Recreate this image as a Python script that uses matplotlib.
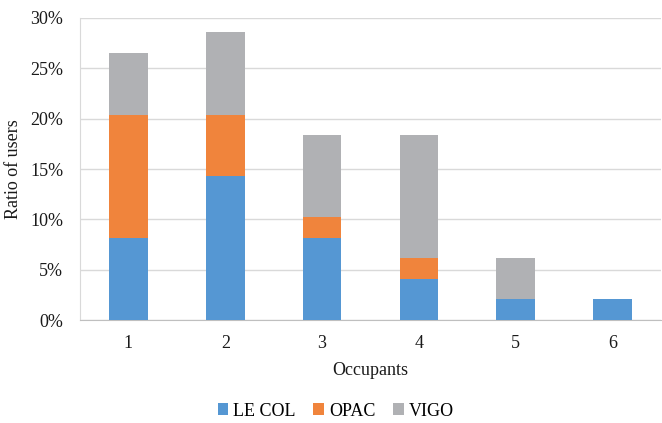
import matplotlib
matplotlib.use("Agg")
import matplotlib.pyplot as plt
import numpy as np
from matplotlib.ticker import PercentFormatter

categories = ["1", "2", "3", "4", "5", "6"]
le_col = [8.16, 14.29, 8.16, 4.08, 2.04, 2.04]
opac = [12.24, 6.12, 2.04, 2.04, 0.0, 0.0]
vigo = [6.12, 8.16, 8.16, 12.24, 4.08, 0.0]
series_names = ["LE COL", "OPAC", "VIGO"]
colors = ["#5597D3", "#F0843C", "#B0B1B4"]

plt.rcParams['font.family'] = ['Liberation Serif', 'DejaVu Serif']

fig = plt.figure(figsize=(6.62, 4.23), dpi=100)
ax = fig.add_axes([80/662, (423-320)/423, (661-80)/662, (320-18)/423])

x = np.arange(len(categories))
bottom = np.zeros(len(categories))
for name, vals, c in zip(series_names, [le_col, opac, vigo], colors):
    vals = np.array(vals)
    ax.bar(x, vals, 0.4, bottom=bottom, color=c, label=name, zorder=3)
    bottom += vals

ax.set_xlim(-0.5, len(categories) - 0.5)
ax.set_ylim(0, 30)
ax.set_yticks(np.arange(0, 31, 5))
ax.yaxis.set_major_formatter(PercentFormatter(decimals=0))
ax.set_xticks(x)
ax.set_xticklabels(categories)
ax.grid(axis='y', color='#D9D9D9', linewidth=1, zorder=0)
for s in ['top', 'right']:
    ax.spines[s].set_visible(False)
ax.spines['left'].set_color('#D9D9D9')
ax.spines['bottom'].set_color('#BFBFBF')
ax.tick_params(length=0, labelsize=13, colors='#1a1a1a')
ax.tick_params(axis='x', pad=11)
ax.tick_params(axis='y', pad=12)
ax.set_xlabel("Occupants", fontsize=13, color='#1a1a1a', labelpad=7)
ax.set_ylabel("Ratio of users", fontsize=13, color='#1a1a1a', labelpad=6)

fig.legend(loc='center', bbox_to_anchor=(0.507, 1 - 411/423), ncol=3, frameon=False,
           fontsize=13, handlelength=0.6, handleheight=0.6, handletextpad=0.25,
           columnspacing=1.0)

fig.savefig("out.png", dpi=100)
